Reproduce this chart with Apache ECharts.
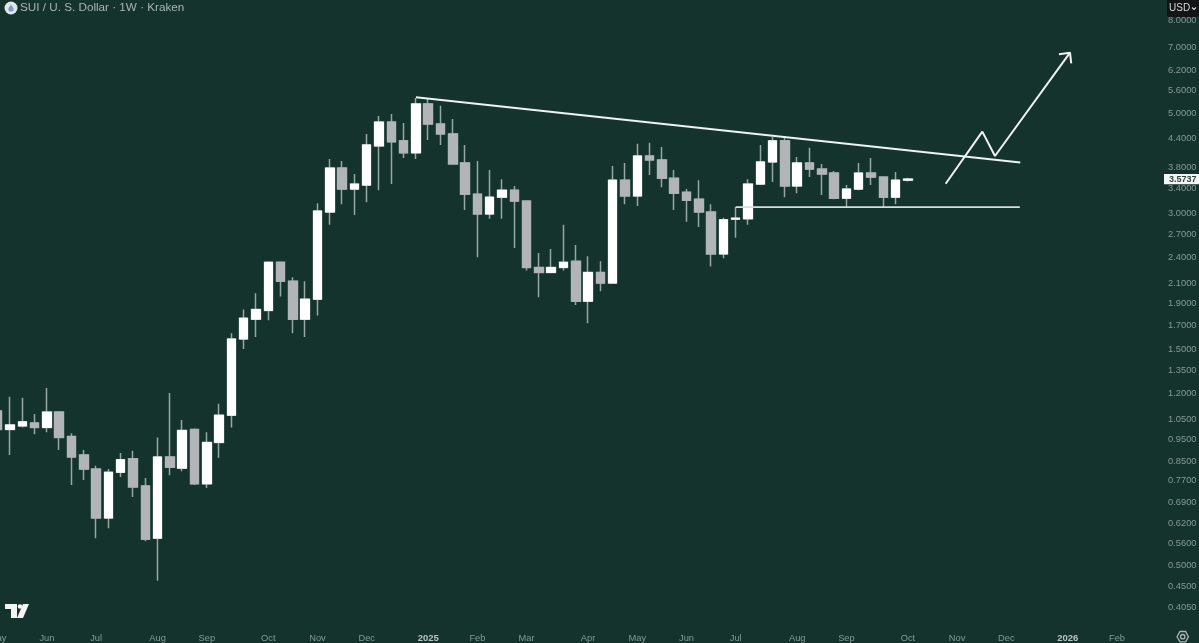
<!DOCTYPE html>
<html>
<head>
<meta charset="utf-8">
<title>SUI / U. S. Dollar</title>
<script src="https://cdn.jsdelivr.net/npm/echarts@6/dist/echarts.min.js"></script>
<style>
  html, body { margin: 0; padding: 0; background: #15332d; }
  #chart { width: 1199px; height: 643px; }
</style>
</head>
<body>
<div id="chart"></div>
<script>
// weekly candles, [open, close, low, high]
var candles = [
  [1.098,1.000,0.985,1.133],[1.000,1.023,0.878,1.180],[1.018,1.039,1.010,1.174],[1.033,1.010,0.975,1.081],
  [1.010,1.092,0.985,1.234],[1.092,0.960,0.901,1.095],[0.965,0.869,0.754,0.980],[0.878,0.817,0.773,0.901],
  [0.817,0.637,0.575,0.831],[0.637,0.804,0.605,0.817],[0.804,0.857,0.785,0.887],[0.861,0.746,0.709,0.897],
  [0.750,0.572,0.566,0.781],[0.575,0.869,0.463,0.960],[0.869,0.825,0.792,1.203],[0.821,0.995,0.808,1.049],
  [1.000,0.758,0.754,1.005],[0.758,0.936,0.742,0.985],[0.936,1.075,0.866,1.139],[1.075,1.584,1.010,1.630],
  [1.584,1.761,1.505,1.841],[1.752,1.841,1.600,1.998],[1.832,2.340,1.743,2.352],[2.340,2.126,1.967,2.345],
  [2.126,1.752,1.630,2.170],[1.752,1.940,1.600,2.126],[1.940,3.038,1.786,3.162],[3.022,3.780,2.832,3.960],
  [3.780,3.396,3.146,3.920],[3.396,3.484,2.976,3.667],[3.466,4.253,3.178,4.497],[4.231,4.777,3.378,4.928],
  [4.777,4.319,3.484,4.979],[4.341,4.084,3.980,4.753],[4.084,5.240,3.960,5.400],[5.240,4.729,4.363,5.375],
  [4.729,4.497,4.253,5.190],[4.497,3.860,3.850,4.850],[3.880,3.310,3.054,4.253],[3.310,2.992,2.400,3.920],
  [2.992,3.260,2.920,3.743],[3.260,3.378,2.920,3.573],[3.378,3.195,2.517,3.450],[3.195,2.280,2.245,3.200],
  [2.280,2.223,1.960,2.454],[2.223,2.280,2.215,2.505],[2.280,2.340,2.245,2.832],[2.352,1.920,1.882,2.554],
  [1.920,2.223,1.717,2.412],[2.223,2.105,2.019,2.352],[2.105,3.555,2.100,3.820],[3.555,3.280,3.146,3.880],
  [3.280,4.020,3.116,4.280],[4.020,3.940,3.650,4.300],[3.940,3.590,3.430,4.210],[3.590,3.326,3.054,3.743],
  [3.343,3.210,2.876,3.396],[3.227,3.022,2.800,3.555],[3.022,2.442,2.292,3.146],[2.442,2.905,2.388,2.935],
  [2.915,2.930,2.650,3.100],[2.920,3.484,2.832,3.573],[3.484,3.900,3.470,4.253],[3.900,4.341,3.520,4.430],
  [4.341,3.450,3.260,4.410],[3.450,3.880,3.326,4.000],[3.880,3.760,3.610,4.190],[3.760,3.667,3.294,3.860],
  [3.685,3.243,3.227,3.722],[3.243,3.396,3.100,3.466],[3.396,3.685,3.378,3.880],[3.685,3.610,3.466,3.980],
  [3.610,3.260,3.100,3.620],[3.260,3.555,3.146,3.704],[3.555,3.5737,3.530,3.600]
];

// month labels by week index, the rest of the weeks stay blank
var monthLabels = {
  0:'May',4:'Jun',8:'Jul',13:'Aug',17:'Sep',22:'Oct',26:'Nov',30:'Dec',35:'2025',39:'Feb',43:'Mar',48:'Apr',
  52:'May',56:'Jun',60:'Jul',65:'Aug',69:'Sep',74:'Oct',78:'Nov',82:'Dec',87:'2026',91:'Feb'
};
var weekCount = 95;
var categories = [];
for (var i = 0; i < weekCount; i++) categories.push(monthLabels[i] || '');

var priceTicks = [8,7,6.2,5.6,5,4.4,3.8,3.4,3,2.7,2.4,2.1,1.9,1.7,1.5,1.35,1.2,1.05,0.95,0.85,0.77,0.69,0.62,0.56,0.5,0.45,0.405];
var lastPrice = 3.5737;

// hand drawn lines, [week index, price]
var trendLine = [[34,5.42],[83.14,3.89]];
var supportLine = [[60,3.10],[83.1,3.10]];
var arrowLine = [[77.07,3.49],[80.05,4.55],[81.08,4.02],[87.18,6.80]];
var arrowHeadLine = [[86.28,6.745],[87.18,6.80],[87.28,6.44]];

// second candlestick layer draws the bodies over the wicks
var candleBodies = candles.map(function (c) {
  return [c[0], c[1], Math.min(c[0], c[1]), Math.max(c[0], c[1])];
});

var ink = { background:'#15332d', up:'#ffffff', down:'#b2b5b8', wick:'#92a8a1', label:'#839b94' };
var fontName = '"Liberation Sans", Arial, sans-serif';

function drawnLine(name, points, color, width) {
  return {
    type:'line', name:name, data:points, xAxisIndex:1, showSymbol:false, symbol:'none', silent:true, z:5,
    lineStyle:{ color:color, width:width }
  };
}

var chart = echarts.init(document.getElementById('chart'));
chart.setOption({
  animation:false,
  backgroundColor:ink.background,
  title:{
    text:'SUI / U. S. Dollar · 1W · Kraken', left:20, top:2, padding:0,
    textStyle:{ color:'#a6b5b0', fontSize:11.7, fontWeight:'normal', fontFamily:fontName }
  },
  grid:{ left:-8.45, top:0, width:1168.5, height:625, outerBoundsMode:'none' },
  xAxis:[
    { type:'category', data:categories, boundaryGap:true,
      axisLine:{show:false}, axisTick:{show:false}, splitLine:{show:false},
      axisLabel:{ interval:0, margin:8, color:ink.label, fontSize:9.3, lineHeight:11, fontFamily:fontName,
        formatter:function (v) { return /^\d+$/.test(v) ? '{year|' + v + '}' : v; },
        rich:{ year:{ color:'#b7c4c0', fontSize:9.5, lineHeight:11, fontWeight:'bold', fontFamily:fontName } } } },
    { type:'value', min:-0.5, max:94.5, show:false }
  ],
  yAxis:{
    type:'log', min:0.3696, max:8.89, position:'right',
    axisLine:{show:false}, axisTick:{show:false}, splitLine:{show:false}, minorSplitLine:{show:false},
    axisLabel:{ show:false }
  },
  series:[
    { type:'candlestick', name:'SUIUSD', data:candles, barWidth:9, silent:true, z:3,
      itemStyle:{ color:ink.wick, color0:ink.wick, borderColor:ink.wick, borderColor0:ink.wick, borderColorDoji:ink.wick, borderWidth:1.5 } },
    { type:'candlestick', name:'bodies', data:candleBodies, barWidth:9, silent:true, z:4,
      itemStyle:{ color:ink.up, color0:ink.down, borderColor:ink.up, borderColor0:ink.down, borderColorDoji:ink.up, borderWidth:1 } },
    drawnLine('trend', trendLine, '#eef3f1', 2),
    drawnLine('support', supportLine, '#d5dfdc', 1.7),
    drawnLine('arrow', arrowLine, '#eef3f1', 2),
    drawnLine('arrowHead', arrowHeadLine, '#eef3f1', 2),
    { type:'custom', name:'priceTicks', data:priceTicks, silent:true, z:6, clip:false, xAxisIndex:1,
      encode:{ y:0 },
      renderItem:function (params, api) {
        var v = api.value(0);
        return { type:'text', style:{ text:v.toFixed(4), x:1196.5, y:api.coord([0, v])[1], align:'right', verticalAlign:'middle',
          fill:ink.label, font:'9.3px ' + fontName } };
      } },
    { type:'custom', name:'lastPrice', data:[lastPrice], silent:true, z:8, clip:false, xAxisIndex:1,
      encode:{ y:0 },
      renderItem:function (params, api) {
        var v = api.value(0), y = api.coord([0, v])[1];
        return { type:'group', children:[
          { type:'rect', shape:{ x:1164, y:y - 5.2, width:35, height:10.4 }, style:{ fill:'#f4f6f5' } },
          { type:'text', style:{ text:v.toFixed(4), x:1196.5, y:y, align:'right', verticalAlign:'middle', fill:'#32423e', font:'bold 9px ' + fontName } }
        ] };
      } }
  ],
  graphic:[
    // symbol badge
    { type:'circle', shape:{ cx:11, cy:8, r:6.5 }, style:{ fill:'#dfe6ee' } },
    { type:'circle', shape:{ cx:11, cy:9, r:2.6 }, style:{ fill:'#7f9bc8' } },
    { type:'polygon', shape:{ points:[[11,4.5],[13.2,8],[8.8,8]] }, style:{ fill:'#7f9bc8' } },
    // currency tag
    { type:'rect', shape:{ x:1167, y:0, width:32, height:17, r:[0,0,3,3] }, style:{ fill:'#131416' }, z:10 },
    { type:'text', style:{ text:'USD', x:1169, y:3, fill:'#d6d8d8', font:'10px ' + fontName }, z:11 },
    { type:'polyline', shape:{ points:[[1192,7.5],[1194,9.5],[1196,7.5]] }, style:{ fill:'none', stroke:'#d6d8d8', lineWidth:1.1 }, z:11 },
    // TradingView mark
    { type:'polygon', shape:{ points:[[5,604],[17,604],[17,618],[11,618],[11,609],[5,609]] }, style:{ fill:'#f4f4f4' } },
    { type:'circle', shape:{ cx:20, cy:606.5, r:2.3 }, style:{ fill:'#f4f4f4' } },
    { type:'polygon', shape:{ points:[[23,604],[29,604],[23,618],[17,618]] }, style:{ fill:'#f4f4f4' } },
    // settings button
    { type:'polygon', shape:{ points:[[1177,636.7],[1180,631.5],[1185.6,631.5],[1188.4,636.7],[1185.6,641.9],[1180,641.9]] }, style:{ fill:'none', stroke:'#a9b8b4', lineWidth:1.3 } },
    { type:'circle', shape:{ cx:1182.7, cy:636.7, r:2.2 }, style:{ fill:'none', stroke:'#a9b8b4', lineWidth:1.3 } }
  ]
});
</script>
</body>
</html>
